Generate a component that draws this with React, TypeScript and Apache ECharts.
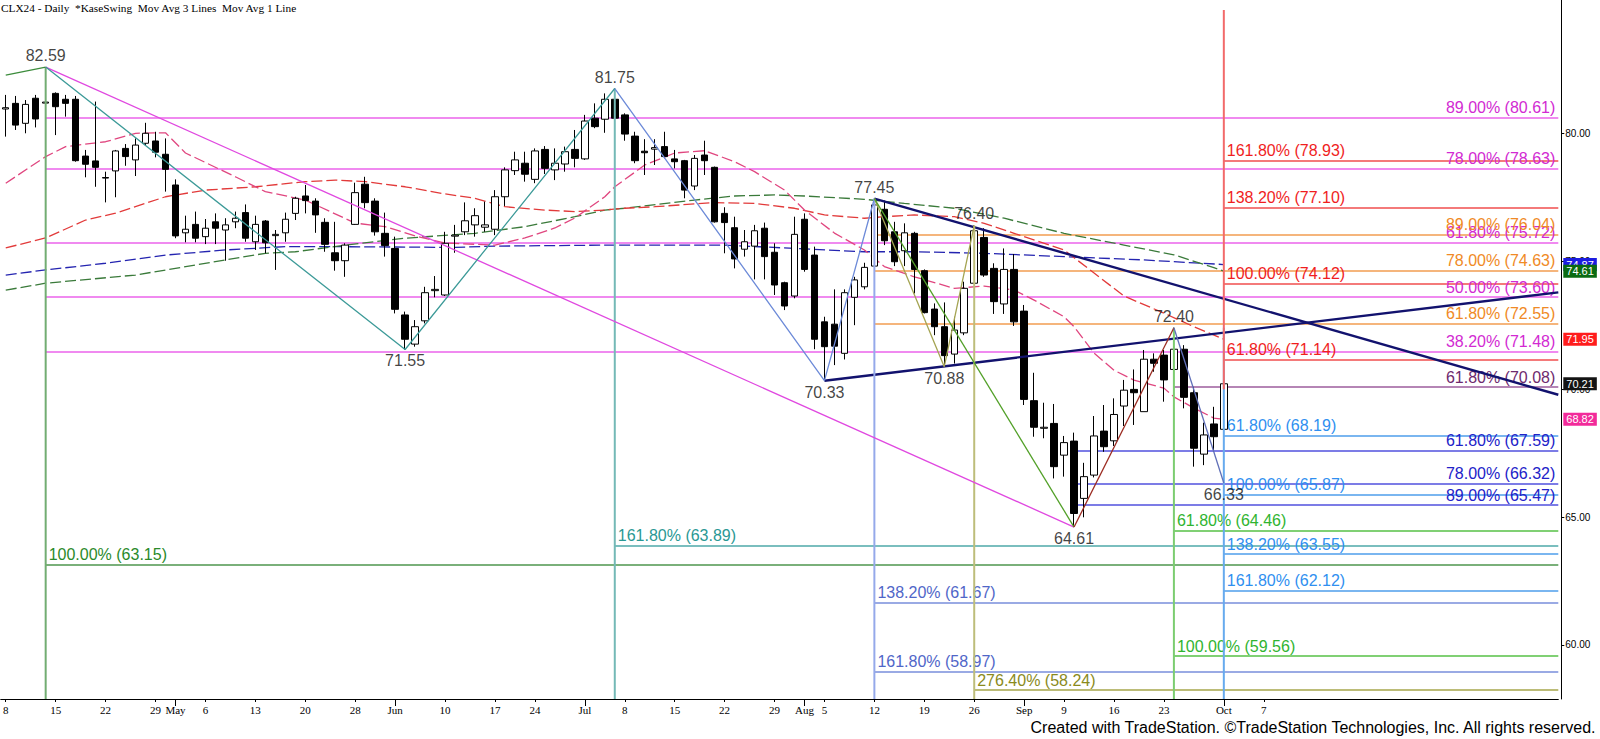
import React, { useEffect, useRef } from 'react';
import * as echarts from 'echarts';

// ---------- calendar ----------
const START_DATE = '2024-04-08';
const HOLIDAYS = ['2024-05-27', '2024-06-19', '2024-07-04', '2024-09-02'];
const CATEGORY_COUNT = 156;

// ---------- axis ticks ----------
const TICK_IDX = [0, 5, 10, 15, 17, 20, 25, 30, 35, 39, 44, 49, 53, 58, 62, 67, 72, 77, 80, 82, 87, 92, 97, 102, 106, 111, 116, 122, 126];
const TICK_TEXT = ['8', '15', '22', '29', 'May', '6', '13', '20', '28', 'Jun', '10', '17', '24', 'Jul', '8', '15', '22', '29', 'Aug', '5', '12', '19', '26', 'Sep', '9', '16', '23', 'Oct', '7'];
const MONTH_TICK_IDX = [17, 39, 58, 80, 102, 122];
const Y_TICKS = [60, 65, 70, 75, 80];
const Y_MIN = 57.889;
const Y_MAX = 85.21;

// ---------- prices (daily OHLC, CLX24) ----------
const OPEN = [80.95, 81.17, 80.39, 81.37, 81.18, 81.56, 81.33, 81.33, 79.11, 78.92,
  78.27, 78.53, 79.41, 78.96, 79.61, 79.70, 79.18, 77.98, 76.11, 76.44,
  75.96, 76.54, 76.22, 76.54, 76.90, 75.76, 76.57, 76.00, 76.11, 76.87,
  77.55, 77.35, 76.52, 75.33, 75.02, 76.44, 78.01, 77.35, 76.09, 75.50,
  72.90, 71.76, 72.67, 73.85, 73.68, 75.98, 76.15, 76.42, 76.33, 76.25,
  77.52, 78.54, 78.83, 78.20, 79.37, 78.57, 78.80, 79.37, 79.00, 80.59,
  80.55, 81.33, 80.72, 79.89, 79.30, 79.38, 79.48, 79.00, 78.93, 77.94,
  79.15, 78.67, 76.87, 76.31, 75.47, 75.59, 76.29, 75.35, 74.16, 73.64,
  76.64, 75.24, 72.63, 72.54, 71.40, 73.59, 74.00, 74.81, 77.03, 76.15,
  75.41, 76.09, 74.63, 73.13, 72.44, 71.37, 72.20, 74.14, 75.93, 74.72,
  73.33, 74.68, 73.05, 69.55, 68.47, 68.66, 67.42, 67.97, 65.73, 66.64,
  68.36, 67.98, 69.34, 69.99, 69.12, 71.17, 71.33, 70.77, 71.56, 69.86,
  67.46, 68.64, 68.43];
const HIGH = [81.50, 81.46, 81.30, 81.50, 82.59, 81.60, 81.50, 81.46, 79.35, 81.24,
  78.50, 79.35, 79.58, 79.80, 80.41, 80.06, 79.80, 78.20, 76.78, 76.94,
  76.65, 76.87, 76.68, 76.94, 77.22, 76.78, 76.61, 76.22, 76.90, 77.52,
  77.98, 77.46, 76.68, 76.54, 75.70, 78.07, 78.30, 77.46, 76.90, 75.96,
  73.03, 72.70, 74.00, 74.42, 76.15, 76.42, 77.30, 77.07, 77.33, 77.78,
  78.67, 79.28, 79.28, 79.41, 79.50, 79.41, 79.48, 80.13, 80.72, 81.17,
  81.56, 81.75, 80.78, 80.06, 79.77, 79.77, 80.06, 79.35, 78.96, 79.15,
  79.71, 78.70, 77.11, 76.74, 76.22, 76.42, 76.51, 75.70, 74.20, 76.74,
  76.87, 75.57, 72.83, 73.90, 73.90, 74.39, 74.94, 77.45, 77.37, 76.54,
  76.48, 76.15, 74.68, 73.35, 73.39, 72.83, 74.20, 76.40, 76.29, 74.92,
  75.50, 75.28, 73.29, 70.64, 69.47, 69.42, 68.17, 68.30, 67.12, 68.95,
  69.38, 69.64, 70.36, 70.77, 71.53, 71.40, 71.53, 72.40, 71.72, 70.09,
  68.69, 69.31, 70.30];
const LOW = [79.87, 80.13, 80.00, 80.23, 80.70, 79.93, 80.65, 78.89, 78.28, 77.91,
  77.30, 77.50, 78.73, 78.33, 79.54, 79.06, 77.72, 75.90, 75.74, 75.74,
  75.67, 75.67, 75.02, 76.29, 75.76, 75.44, 75.31, 74.66, 75.76, 76.61,
  76.87, 76.11, 75.37, 74.63, 74.39, 76.42, 77.07, 76.00, 75.18, 72.96,
  71.55, 71.66, 72.57, 73.59, 73.64, 75.33, 76.02, 75.96, 76.15, 76.02,
  77.16, 78.37, 78.11, 78.05, 78.41, 78.17, 78.50, 78.67, 78.96, 80.20,
  80.02, 80.50, 79.71, 78.83, 78.37, 78.76, 79.02, 78.63, 77.46, 77.78,
  78.37, 76.51, 75.31, 74.72, 75.18, 74.29, 74.29, 73.68, 73.09, 73.55,
  74.59, 71.56, 70.33, 70.94, 71.16, 72.50, 73.90, 74.60, 75.63, 74.81,
  74.81, 73.74, 72.96, 72.11, 70.88, 71.00, 72.11, 74.14, 74.39, 72.94,
  72.94, 72.47, 69.38, 68.14, 68.08, 66.51, 66.58, 64.61, 64.99, 66.55,
  67.55, 67.78, 68.56, 68.60, 69.12, 70.68, 69.51, 70.46, 69.25, 66.97,
  67.03, 67.55, 66.33];
const CLOSE = [81.00, 80.32, 81.13, 80.56, 81.22, 81.04, 81.17, 78.93, 78.79, 78.67,
  78.25, 79.31, 79.09, 79.54, 80.00, 79.26, 78.59, 75.99, 76.25, 75.90,
  76.29, 76.29, 76.42, 76.68, 75.90, 76.44, 75.72, 76.05, 76.64, 77.46,
  77.37, 76.81, 75.66, 75.02, 75.63, 77.68, 77.29, 76.15, 75.61, 73.12,
  71.95, 72.44, 73.77, 73.90, 75.70, 76.02, 76.58, 76.78, 76.42, 77.52,
  78.57, 78.96, 78.40, 79.31, 78.63, 78.83, 79.28, 79.02, 80.48, 80.26,
  81.33, 80.59, 79.97, 78.93, 79.24, 79.44, 79.09, 78.89, 77.78, 79.02,
  78.93, 76.54, 76.51, 75.09, 75.76, 76.19, 75.18, 74.07, 73.25, 76.05,
  74.68, 71.95, 71.66, 71.68, 73.77, 74.27, 74.76, 77.20, 75.80, 74.98,
  76.11, 74.68, 72.99, 72.44, 71.31, 72.31, 73.94, 76.19, 74.46, 73.42,
  74.68, 72.63, 69.60, 68.51, 68.51, 66.97, 67.91, 65.14, 66.58, 68.17,
  67.75, 69.01, 69.96, 69.86, 71.17, 71.01, 70.36, 71.56, 69.68, 67.69,
  68.21, 68.14, 70.21];

// ---------- moving averages (read at sample bars) ----------
const PINK_MA_IDX = [0, 4, 6, 10, 13, 16, 18, 23, 26, 30, 35, 38, 41, 44, 49, 52, 55, 57, 60, 61, 64, 67, 70, 73, 75, 78, 80, 83, 86, 88, 91, 95, 98, 101, 103, 106, 107, 109, 111, 113, 116, 117, 119, 121, 122];
const PINK_MA = [78.05, 79.09, 79.48, 79.67, 80.0, 80.02, 79.23, 78.30, 77.72, 77.39, 76.49, 76.35, 75.99, 75.71, 75.63, 75.91, 76.30, 76.69, 77.52, 77.91, 78.76, 79.23, 79.32, 78.89, 78.50, 77.78, 77.00, 76.10, 75.44, 74.79, 74.39, 73.94, 74.03, 73.87, 73.48, 72.83, 72.44, 71.41, 70.74, 70.35, 70.04, 69.70, 69.26, 68.87, 68.82];
const RED_MA_IDX = [0, 4, 8, 11, 16, 20, 25, 30, 33, 36, 40, 44, 47, 50, 54, 57, 60, 62, 65, 69, 71, 75, 79, 82, 86, 88, 91, 95, 98, 101, 106, 112, 116, 119, 122];
const RED_MA = [75.52, 75.91, 76.61, 76.88, 77.52, 77.78, 77.91, 78.11, 78.17, 78.11, 77.91, 77.63, 77.46, 77.13, 77.00, 76.94, 77.00, 77.07, 77.13, 77.24, 77.29, 77.26, 77.07, 76.81, 76.68, 76.74, 76.81, 76.74, 76.48, 76.09, 75.44, 73.64, 72.97, 72.44, 71.95];
const GREEN_MA_IDX = [0, 4, 13, 22, 26, 29, 34, 40, 47, 52, 57, 60, 62, 69, 73, 77, 80, 86, 90, 95, 100, 106, 112, 117, 121, 122];
const GREEN_MA = [73.87, 74.14, 74.46, 75.05, 75.31, 75.37, 75.63, 75.90, 76.09, 76.35, 76.74, 77.00, 77.07, 77.39, 77.55, 77.59, 77.55, 77.42, 77.26, 77.07, 76.68, 76.09, 75.63, 75.25, 74.75, 74.61];
const BLUE_MA_IDX = [0, 4, 10, 16, 22, 28, 33, 45, 49, 60, 72, 79, 86, 91, 98, 106, 114, 122];
const BLUE_MA = [74.46, 74.66, 74.92, 75.24, 75.44, 75.57, 75.57, 75.54, 75.59, 75.63, 75.63, 75.50, 75.37, 75.37, 75.31, 75.18, 75.05, 74.87];

// ---------- price tags on the axis ----------
const TAG_VALUES = [74.87, 74.61, 71.95, 70.21, 68.82];
const TAG_COLORS = ['#1c1ce0', '#0b6b12', '#ff1c1c', '#141414', '#f22a9a'];

// ---------- swings ----------
const SWING_HIGH_IDX = [4, 61, 87, 97, 117];
const SWING_HIGH = [82.59, 81.75, 77.45, 76.40, 72.40];
const SWING_LOW_IDX = [40, 82, 94, 107, 122];
const SWING_LOW = [71.55, 70.33, 70.88, 64.61, 66.33];

// ---------- swing legs ----------
const LEG_LEFT_IDX = [0, 4];
const LEG_LEFT = [82.27, 82.59];
const LEG_TEAL_IDX = [4, 40, 61];
const LEG_TEAL = [82.59, 71.55, 81.75];
const LEG_CORN_IDX = [61, 82, 87];
const LEG_CORN = [81.75, 70.33, 77.45];
const LEG_KHAKI_IDX = [87, 94, 97];
const LEG_KHAKI = [77.45, 70.88, 76.40];
const LEG_LIME_IDX = [87, 107];
const LEG_LIME = [77.45, 64.61];
const LEG_BROWN_IDX = [107, 117];
const LEG_BROWN = [64.61, 72.40];
const LEG_SLATE_IDX = [117, 122];
const LEG_SLATE = [72.40, 66.33];
const LEG_MAGENTA_IDX = [4, 107];
const LEG_MAGENTA = [82.59, 64.61];
// trend lines: anchor bar, anchor price, price where the line meets the right edge
const TREND_DOWN_START = [87, 77.45];
const TREND_DOWN_EDGE = 69.78;
const TREND_UP_START = [82, 70.33];
const TREND_UP_EDGE = 73.78;

// ---------- vertical anchors ----------
const VERT_IDX = [4, 61, 87, 97, 117, 122];
const VERT_TOP = [82.59, 81.75, 77.45, 76.40, 72.40, 72.40];
const VERT_COLORS = ['#72ad72', '#74b9b6', '#95a9ea', '#bdbd7a', '#7ccd70', '#66aaee'];
const RED_VERT_IDX = 122;
const RED_VERT_TOP = 84.82;
const RED_VERT_BOTTOM = 70.0;

// ---------- fibonacci levels ----------
const MAGENTA_LEVELS = [80.61, 78.63, 75.72, 73.60, 71.48];
const MAGENTA_PCTS = ['89.00%', '78.00%', '61.80%', '50.00%', '38.20%'];
const ORANGE_LEVELS = [76.04, 74.63, 72.55];
const ORANGE_PCTS = ['89.00%', '78.00%', '61.80%'];
const PLUM_LEVELS = [70.08];
const PLUM_PCTS = ['61.80%'];
const NAVY_LEVELS = [67.59, 66.32, 65.47];
const NAVY_PCTS = ['61.80%', '78.00%', '89.00%'];
const RED_LEVELS = [78.93, 77.10, 74.12, 71.14];
const RED_PCTS = ['161.80%', '138.20%', '100.00%', '61.80%'];
const SKY_LEVELS = [68.19, 65.87, 63.55, 62.12];
const SKY_PCTS = ['61.80%', '100.00%', '138.20%', '161.80%'];
const LIME_LEVELS = [64.46, 59.56];
const LIME_PCTS = ['61.80%', '100.00%'];
const TEAL_LEVELS = [63.89];
const TEAL_PCTS = ['161.80%'];
const GREEN_LEVELS = [63.15];
const GREEN_PCTS = ['100.00%'];
const CORN_LEVELS = [61.67, 58.97];
const CORN_PCTS = ['138.20%', '161.80%'];
const OLIVE_LEVELS = [58.24];
const OLIVE_PCTS = ['276.40%'];

const FIB_GROUPS = [
  { start: 4, levels: MAGENTA_LEVELS, pcts: MAGENTA_PCTS, line: '#f08af0', text: '#d22ad2', pos: 'insideEndTop' },
  { start: 87, levels: ORANGE_LEVELS, pcts: ORANGE_PCTS, line: '#f5b57c', text: '#f08a26', pos: 'insideEndTop' },
  { start: 117, levels: PLUM_LEVELS, pcts: PLUM_PCTS, line: '#b585b5', text: '#6e2a6e', pos: 'insideEndTop' },
  { start: 107, levels: NAVY_LEVELS, pcts: NAVY_PCTS, line: '#7c7ce6', text: '#2222c8', pos: 'insideEndTop' },
  { start: 122, levels: RED_LEVELS, pcts: RED_PCTS, line: '#f47a7a', text: '#f01e1e', pos: 'insideStartTop' },
  { start: 122, levels: SKY_LEVELS, pcts: SKY_PCTS, line: '#7ab6f0', text: '#2f8ff0', pos: 'insideStartTop' },
  { start: 117, levels: LIME_LEVELS, pcts: LIME_PCTS, line: '#80d074', text: '#30b430', pos: 'insideStartTop' },
  { start: 61, levels: TEAL_LEVELS, pcts: TEAL_PCTS, line: '#7abebe', text: '#2a9894', pos: 'insideStartTop' },
  { start: 4, levels: GREEN_LEVELS, pcts: GREEN_PCTS, line: '#7ab07a', text: '#2a8a2a', pos: 'insideStartTop' },
  { start: 87, levels: CORN_LEVELS, pcts: CORN_PCTS, line: '#9aaae4', text: '#5066c8', pos: 'insideStartTop' },
  { start: 97, levels: OLIVE_LEVELS, pcts: OLIVE_PCTS, line: '#bcbc78', text: '#8a8a1c', pos: 'insideStartTop' },
];

const TITLE = 'CLX24 - Daily  *KaseSwing  Mov Avg 3 Lines  Mov Avg 1 Line';
const COPYRIGHT = 'Created with TradeStation. \u00A9TradeStation Technologies, Inc. All rights reserved.';
const SANS = 'Liberation Sans, Arial, sans-serif';
const SERIF = 'Liberation Serif, Times New Roman, serif';

function buildCategories(): string[] {
  const out: string[] = [];
  const d = new Date(START_DATE + 'T00:00:00Z');
  while (out.length < CATEGORY_COUNT) {
    const day = d.getUTCDay();
    const iso = d.toISOString().slice(0, 10);
    if (day !== 0 && day !== 6 && HOLIDAYS.indexOf(iso) < 0) out.push(iso);
    d.setUTCDate(d.getUTCDate() + 1);
  }
  return out;
}

const pairs = (xs: number[], ys: number[]) => xs.map((x, k) => [x, ys[k]]);

function legSeries(xs: number[], ys: number[], color: string, width: number, z: number) {
  return {
    type: 'line',
    data: pairs(xs, ys),
    symbol: 'none',
    showSymbol: false,
    silent: true,
    z,
    lineStyle: { color, width, type: 'solid' },
  };
}

function maSeries(xs: number[], ys: number[], color: string) {
  return {
    type: 'line',
    data: pairs(xs, ys),
    symbol: 'none',
    showSymbol: false,
    silent: true,
    smooth: false,
    z: 2,
    lineStyle: { color, width: 1.3, type: [11, 4] },
  };
}

function tagAxis(k: number) {
  return {
    type: 'value',
    position: 'right',
    offset: 3,
    min: Y_MIN,
    max: Y_MAX,
    z: 5 + k,
    axisLine: { show: false },
    axisTick: { show: false },
    axisLabel: {
      show: true,
      customValues: [TAG_VALUES[k]],
      margin: 2,
      formatter: (v: number) => '{t|' + v.toFixed(2) + '}',
      rich: {
        t: {
          backgroundColor: TAG_COLORS[k],
          color: '#fff',
          padding: [1, 3, 1, 3],
          fontSize: 11,
          lineHeight: 12,
          fontFamily: SANS,
        },
      },
    },
    splitLine: { show: false },
  };
}

export default function App() {
  const ref = useRef<HTMLDivElement>(null);

  useEffect(() => {
    if (!ref.current) return;
    const chart = echarts.init(ref.current, undefined, { renderer: 'svg' });
    const cats = buildCategories();
    const candles = OPEN.map((o, i) => [o, CLOSE[i], LOW[i], HIGH[i]]);

    const tickSet = new Set(TICK_IDX);
    const monthSet = new Set(MONTH_TICK_IDX);

    const verticals = VERT_IDX.map((x, k) => legSeries([x, x], [VERT_TOP[k], Y_MIN], VERT_COLORS[k], 2, 4));

    const option: any = {
      animation: false,
      backgroundColor: '#ffffff',
      title: {
        text: TITLE,
        left: 1,
        top: 2,
        padding: 0,
        textStyle: { fontFamily: SERIF, fontSize: 11.3, fontWeight: 'normal', color: '#000' },
      },
      graphic: [
        {
          type: 'text',
          right: 3,
          bottom: 4,
          style: { text: COPYRIGHT, fill: '#000', font: '16px "Liberation Sans", Arial, sans-serif' },
        },
      ],
      grid: { left: -1.7, top: 0, width: 1560, height: 699, containLabel: false },
      xAxis: [
        {
          type: 'category',
          data: cats,
          boundaryGap: true,
          axisLine: { show: true, lineStyle: { color: '#000', width: 1 } },
          axisTick: { show: true, alignWithLabel: true, interval: (i: number) => tickSet.has(i), length: 3, lineStyle: { color: '#000' } },
          axisLabel: {
            show: true,
            interval: (i: number) => tickSet.has(i),
            formatter: (_v: string, i: number) => TICK_TEXT[TICK_IDX.indexOf(i)] || '',
            fontFamily: SERIF,
            fontSize: 11,
            color: '#000',
            margin: 5,
          },
          splitLine: { show: false },
        },
        {
          type: 'category',
          data: cats,
          position: 'bottom',
          boundaryGap: true,
          axisLine: { show: false },
          axisTick: { show: true, alignWithLabel: true, interval: (i: number) => monthSet.has(i), length: 7, lineStyle: { color: '#000' } },
          axisLabel: { show: false },
          splitLine: { show: false },
        },
      ],
      yAxis: [
        {
          type: 'value',
          position: 'right',
          offset: 3,
          min: Y_MIN,
          max: Y_MAX,
          axisLine: { show: true, lineStyle: { color: '#000', width: 1 } },
          axisTick: { show: true, length: 3, customValues: Y_TICKS, lineStyle: { color: '#000' } },
          axisLabel: {
            show: true,
            customValues: Y_TICKS,
            formatter: (v: number) => v.toFixed(2),
            fontSize: 10,
            fontFamily: SANS,
            color: '#000',
            margin: 4,
          },
          splitLine: { show: false },
        },
        ...TAG_VALUES.map((_, k) => tagAxis(k)),
      ],
      series: [
        maSeries(BLUE_MA_IDX, BLUE_MA, '#2424b0'),
        maSeries(GREEN_MA_IDX, GREEN_MA, '#3a7a3a'),
        maSeries(RED_MA_IDX, RED_MA, '#e23a3a'),
        maSeries(PINK_MA_IDX, PINK_MA, '#e0467f'),
        {
          id: 'candles',
          type: 'candlestick',
          data: candles,
          barWidth: 7,
          silent: true,
          z: 3,
          itemStyle: { color: '#ffffff', color0: '#000000', borderColor: '#000000', borderColor0: '#000000', borderWidth: 1 },
        },
        ...verticals,
        legSeries([RED_VERT_IDX, RED_VERT_IDX], [RED_VERT_TOP, RED_VERT_BOTTOM], '#f26a6a', 2, 4),
        legSeries(LEG_MAGENTA_IDX, LEG_MAGENTA, '#e048e0', 1.3, 4),
        legSeries(LEG_LEFT_IDX, LEG_LEFT, '#3c8c3c', 1.3, 4),
        legSeries(LEG_TEAL_IDX, LEG_TEAL, '#3c9a98', 1.3, 4),
        legSeries(LEG_CORN_IDX, LEG_CORN, '#6c8ad8', 1.3, 4),
        legSeries(LEG_KHAKI_IDX, LEG_KHAKI, '#a4a452', 1.3, 4),
        legSeries(LEG_LIME_IDX, LEG_LIME, '#52a028', 1.3, 4),
        legSeries(LEG_BROWN_IDX, LEG_BROWN, '#9c2c22', 1.3, 4),
        legSeries(LEG_SLATE_IDX, LEG_SLATE, '#6070b8', 1.3, 4),
        {
          id: 'trends',
          type: 'line',
          data: [],
          silent: true,
          z: 4,
        },
        {
          type: 'scatter',
          data: pairs(SWING_HIGH_IDX, SWING_HIGH),
          symbol: 'circle',
          symbolSize: 1,
          silent: true,
          z: 6,
          itemStyle: { color: 'rgba(0,0,0,0)' },
          label: { show: true, position: 'top', distance: 3, formatter: (p: any) => p.value[1].toFixed(2), color: '#111', fontSize: 16, fontFamily: SANS },
        },
        {
          type: 'scatter',
          data: pairs(SWING_LOW_IDX, SWING_LOW),
          symbol: 'circle',
          symbolSize: 1,
          silent: true,
          z: 6,
          itemStyle: { color: 'rgba(0,0,0,0)' },
          label: { show: true, position: 'bottom', distance: 3, formatter: (p: any) => p.value[1].toFixed(2), color: '#111', fontSize: 16, fontFamily: SANS },
        },
      ],
    };

    chart.setOption(option);

    // second pass: place level lines and trend lines in pixels computed by the chart's own scales
    const toPx = (x: number, y: number) => chart.convertToPixel({ xAxisIndex: 0, yAxisIndex: 0 }, [x, y]) as number[];
    const lastX = toPx(CATEGORY_COUNT - 1, Y_MIN)[0];
    const prevX = toPx(CATEGORY_COUNT - 2, Y_MIN)[0];
    const rightEdge = lastX + (lastX - prevX) / 2;

    const fibData: any[] = [];
    FIB_GROUPS.forEach((g) => {
      g.levels.forEach((v, k) => {
        const p = toPx(g.start, v);
        fibData.push([
          {
            x: p[0],
            y: p[1],
            lineStyle: { color: g.line, width: 2, type: 'solid' },
            label: {
              show: true,
              position: g.pos,
              formatter: g.pcts[k] + ' (' + v.toFixed(2) + ')',
              color: g.text,
              fontSize: 16,
              fontFamily: SANS,
              distance: [3, 2],
            },
          },
          { x: rightEdge, y: p[1] },
        ]);
      });
    });

    const tdA = toPx(TREND_DOWN_START[0], TREND_DOWN_START[1]);
    const tdB = toPx(CATEGORY_COUNT - 1, TREND_DOWN_EDGE);
    const tuA = toPx(TREND_UP_START[0], TREND_UP_START[1]);
    const tuB = toPx(CATEGORY_COUNT - 1, TREND_UP_EDGE);
    const trendStyle = { color: '#12126e', width: 2.4, type: 'solid' };
    const trendData = [
      [{ x: tdA[0], y: tdA[1], lineStyle: trendStyle, label: { show: false } }, { x: rightEdge, y: tdB[1] }],
      [{ x: tuA[0], y: tuA[1], lineStyle: trendStyle, label: { show: false } }, { x: rightEdge, y: tuB[1] }],
    ];

    chart.setOption({
      series: [
        { id: 'candles', markLine: { silent: true, z: 1, symbol: ['none', 'none'], animation: false, data: fibData } },
        { id: 'trends', markLine: { silent: true, z: 4, symbol: ['none', 'none'], animation: false, data: trendData } },
      ],
    });

    return () => chart.dispose();
  }, []);

  return <div ref={ref} style={{ position: 'absolute', left: 0, top: 0, width: 1600, height: 739, background: '#fff' }} />;
}
